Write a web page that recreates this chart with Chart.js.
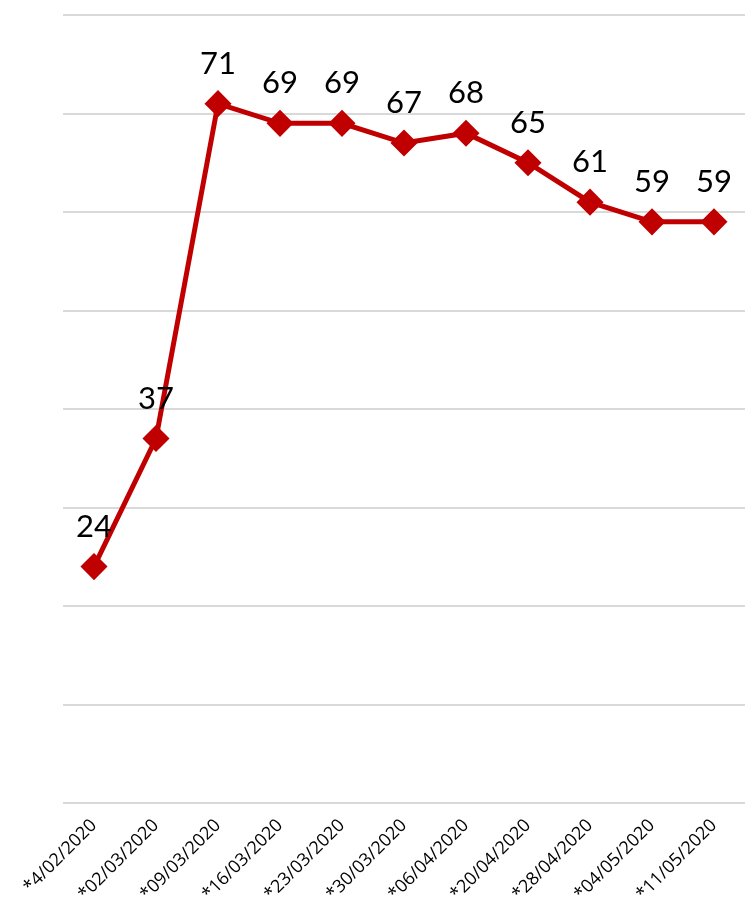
<!DOCTYPE html>
<html>
<head>
<meta charset="utf-8">
<script src="https://cdn.jsdelivr.net/npm/chart.js@4"></script>
<style>
  html, body { margin: 0; padding: 0; background: #fff; overflow: hidden; }
</style>
</head>
<body>
<canvas id="trend-chart" width="745" height="915"></canvas>
<script>
const dates = ['*4/02/2020', '*02/03/2020', '*09/03/2020', '*16/03/2020', '*23/03/2020', '*30/03/2020',
  '*06/04/2020', '*20/04/2020', '*28/04/2020', '*04/05/2020', '*11/05/2020'];
const values = [24, 37, 71, 69, 69, 67, 68, 65, 61, 59, 59];
const yMin = 0;
const yMax = 80;
const yStep = 10;

// draws the number above each point
const pointLabels = {
  id: 'pointLabels',
  afterDatasetsDraw(chart) {
    const ctx = chart.ctx;
    const meta = chart.getDatasetMeta(0);
    ctx.save();
    ctx.font = '31px Lato, "Open Sans", sans-serif';
    ctx.fillStyle = '#000';
    ctx.textAlign = 'center';
    ctx.textBaseline = 'middle';
    meta.data.forEach((pt, i) => {
      ctx.fillText(String(values[i]), pt.x, pt.y - 40);
    });
    ctx.restore();
  }
};

const ctx = document.getElementById('trend-chart').getContext('2d');
new Chart(ctx, {
  type: 'line',
  data: {
    labels: dates,
    datasets: [{
      data: values,
      borderColor: '#C00000',
      backgroundColor: '#C00000',
      borderWidth: 5,
      pointStyle: 'rectRot',
      pointRadius: 10,
      pointHoverRadius: 10,
      tension: 0
    }]
  },
  options: {
    responsive: false,
    animation: false,
    layout: { autoPadding: false, padding: { top: 15, right: 0, left: 0, bottom: 0 } },
    plugins: { legend: { display: false }, tooltip: { enabled: false } },
    scales: {
      x: {
        offset: true,
        grid: { display: false },
        border: { display: false },
        ticks: {
          minRotation: 45,
          maxRotation: 45,
          color: '#000',
          padding: 4,
          font: { family: '"Open Sans", Lato, sans-serif', size: 18 }
        },
        afterFit(scale) {
          scale.height = 112;
          scale.paddingRight = 0;
          scale.paddingLeft = 0;
        }
      },
      y: {
        min: yMin,
        max: yMax,
        ticks: { stepSize: yStep, display: false },
        border: { display: false },
        grid: { color: '#d9d9d9', lineWidth: 2, drawTicks: false },
        afterFit(scale) { scale.width = 63; }
      }
    }
  },
  plugins: [pointLabels]
});
</script>
</body>
</html>
